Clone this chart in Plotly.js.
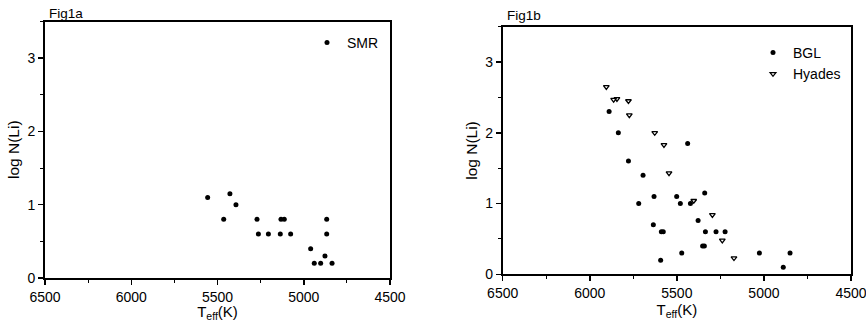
<!DOCTYPE html>
<html>
<head>
<meta charset="utf-8">
<script src="https://cdn.plot.ly/plotly-3.0.1.min.js"></script>
<style>html,body{margin:0;padding:0;background:#fff;}#chart{width:866px;height:322px;}</style>
</head>
<body>
<div id="chart"></div>
<script>
// Fig1a — SMR
const smrT = [5557, 5428, 5393, 5464, 5271, 5263, 5205, 5132, 5113, 5136, 5076, 4867, 4867, 4960, 4877, 4939, 4902, 4836];
const smrLi = [1.1, 1.15, 1.0, 0.8, 0.8, 0.6, 0.6, 0.8, 0.8, 0.6, 0.6, 0.8, 0.6, 0.4, 0.3, 0.2, 0.2, 0.2];

// Fig1b — BGL
const bglT = [5889, 5836, 5778, 5694, 5719, 5631, 5635, 5589, 5578, 5593, 5501, 5480, 5438, 5422, 5340, 5378, 5336, 5275, 5223, 5352, 5342, 5472, 5026, 4850, 4889];
const bglLi = [2.3, 2.0, 1.6, 1.4, 1.0, 1.1, 0.7, 0.6, 0.6, 0.2, 1.1, 1.0, 1.85, 1.0, 1.15, 0.76, 0.6, 0.6, 0.6, 0.4, 0.4, 0.3, 0.3, 0.3, 0.1];

// Fig1b — Hyades
const hyaT = [5905, 5863, 5844, 5778, 5773, 5627, 5574, 5545, 5403, 5296, 5239, 5172];
const hyaLi = [2.65, 2.47, 2.48, 2.45, 2.25, 2.0, 1.83, 1.43, 1.04, 0.84, 0.48, 0.23];

const xTickVals = [6500, 6000, 5500, 5000, 4500];
const yTickVals = [0, 1, 2, 3];
const panelTitles = ["Fig1a", "Fig1b"];
const xTitle = "T<sub>eff</sub>(K)";
const yTitle = "log N(Li)";

const FONT = "Liberation Sans, Arial, Helvetica, sans-serif";
const INK = "#000";

const dot = {symbol: "circle", size: 5, color: INK};
const tri = {symbol: "triangle-down-open", size: 5, color: INK, line: {width: 1.3, color: INK}};

const traces = [
  {x: smrT, y: smrLi, type: "scatter", mode: "markers", name: "SMR", marker: dot, xaxis: "x", yaxis: "y", legend: "legend"},
  {x: bglT, y: bglLi, type: "scatter", mode: "markers", name: "BGL", marker: dot, xaxis: "x2", yaxis: "y2", legend: "legend2"},
  {x: hyaT, y: hyaLi, type: "scatter", mode: "markers", name: "Hyades", marker: tri, xaxis: "x2", yaxis: "y2", legend: "legend2"}
];

function xax(domain, anchor) {
  return {
    domain: domain, anchor: anchor, range: [6500, 4500],
    tickvals: xTickVals, ticktext: xTickVals.map(String),
    ticks: "outside", ticklen: 5, tickwidth: 1.5, tickcolor: INK,
    minor: {ticks: "outside", ticklen: 3, dtick: 250, tick0: 4500, tickcolor: INK, tickwidth: 1},
    showline: true, linecolor: INK, linewidth: 1.8, mirror: true,
    showgrid: false, zeroline: false, ticklabeloverflow: "allow",
    tickfont: {family: FONT, size: 14, color: INK},
    title: {text: xTitle, font: {family: FONT, size: 15, color: INK}, standoff: 4}
  };
}
function yax(domain, anchor) {
  return {
    domain: domain, anchor: anchor, range: [0, 3.5],
    tickvals: yTickVals, ticktext: yTickVals.map(String),
    ticks: "outside", ticklen: 5, tickwidth: 1.5, tickcolor: INK,
    minor: {ticks: "outside", ticklen: 3, dtick: 0.5, tick0: 0, tickcolor: INK, tickwidth: 1},
    showline: true, linecolor: INK, linewidth: 1.8, mirror: true,
    showgrid: false, zeroline: false, ticklabeloverflow: "allow",
    tickfont: {family: FONT, size: 14, color: INK},
    title: {text: yTitle, font: {family: FONT, size: 15.5, color: INK}, standoff: 4}
  };
}

const layout = {
  width: 866, height: 322,
  margin: {l: 0, r: 0, t: 0, b: 0},
  paper_bgcolor: "#fff", plot_bgcolor: "#fff",
  showlegend: true,
  xaxis: xax([45/866, 390/866], "y"),
  yaxis: yax([1 - 278/322, 1 - 21.5/322], "x"),
  xaxis2: xax([502.7/866, 851/866], "y2"),
  yaxis2: yax([1 - 274.3/322, 1 - 26.7/322], "x2"),
  legend: {x: 307/866, y: 1 - 27/322, xanchor: "left", yanchor: "top", bgcolor: "rgba(0,0,0,0)",
           itemwidth: 30, font: {family: FONT, size: 14, color: INK}},
  legend2: {x: 753/866, y: 1 - 37/322, xanchor: "left", yanchor: "top", bgcolor: "rgba(0,0,0,0)",
            itemwidth: 30, font: {family: FONT, size: 14, color: INK}},
  annotations: [
    {text: panelTitles[0], xref: "paper", yref: "paper", x: 47/866, y: 1 - 13/322, xanchor: "left", yanchor: "middle", showarrow: false, font: {family: FONT, size: 13.5, color: INK}},
    {text: panelTitles[1], xref: "paper", yref: "paper", x: 505/866, y: 1 - 15/322, xanchor: "left", yanchor: "middle", showarrow: false, font: {family: FONT, size: 13.5, color: INK}}
  ]
};

Plotly.newPlot("chart", traces, layout, {displayModeBar: false, staticPlot: true});
</script>
</body>
</html>
